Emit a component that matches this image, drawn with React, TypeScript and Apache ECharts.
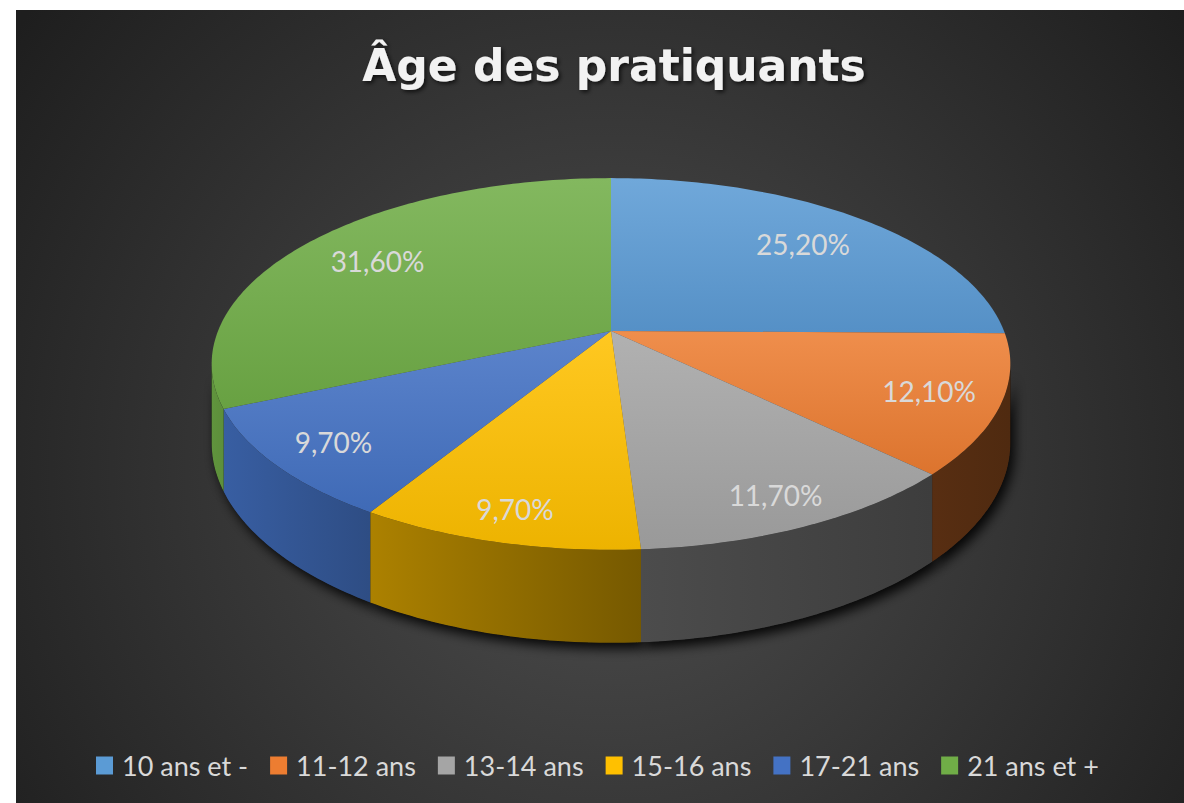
import React, { useEffect, useRef } from "react";
import * as echarts from "echarts";

const categories = ["10 ans et -", "11-12 ans", "13-14 ans", "15-16 ans", "17-21 ans", "21 ans et +"];
const shares = [25.2, 12.1, 11.7, 9.7, 9.7, 31.6];
const colors = ["#5B9BD5", "#ED7D31", "#A5A5A5", "#FFC000", "#4472C4", "#70AD47"];
const titleText = "Âge des pratiquants";

// projection of the tilted 3D disc
const CX = 611;
const CY = 331;
const RX = 393;
const RY = 180;
const K = 0.1774;
const DEPTH = 76.5;

const total = shares.reduce((a, b) => a + b, 0);
const starts: number[] = [];
shares.reduce((acc, v, i) => {
  starts[i] = acc;
  return acc + v;
}, 0);

function proj(theta: number, r: number, down: number): number[] {
  const u = Math.sin(theta) * r;
  const v = -Math.cos(theta) * r;
  const w = 1 - K * v;
  return [CX + (RX * u) / w, CY + (RY * v + down) / w];
}

function hexRgb(hex: string): number[] {
  const h = hex.replace("#", "");
  return [0, 2, 4].map((k) => parseInt(h.slice(k, k + 2), 16));
}
function scale(hex: string, f: number): string {
  const c = hexRgb(hex).map((x) => Math.max(0, Math.min(255, Math.round(x * f))));
  return `rgb(${c[0]},${c[1]},${c[2]})`;
}
function lighten(hex: string, a: number): string {
  const c = hexRgb(hex).map((x) => Math.round(x + (255 - x) * a));
  return `rgb(${c[0]},${c[1]},${c[2]})`;
}
function shade(theta: number): number {
  const u = Math.sin(theta);
  return u < 0 ? 0.47 - 0.39 * u : 0.47 - 0.14 * u;
}
function fmt(v: number): string {
  return v.toFixed(2).replace(".", ",") + "%";
}

const FRONT_MIN = Math.acos(-K);
const FRONT_MAX = 2 * Math.PI - FRONT_MIN;

export default function App() {
  const ref = useRef<HTMLDivElement>(null);
  useEffect(() => {
    if (!ref.current) return;
    const chart = echarts.init(ref.current, undefined, { renderer: "svg" });
    const option: any = {
      animation: false,
      graphic: [
        {
          type: "rect",
          z: -10,
          silent: true,
          shape: { x: 16, y: 10, width: 1168, height: 793 },
          style: {
            fill: {
              type: "radial",
              x: 610,
              y: 470,
              r: 740,
              global: true,
              colorStops: [
                { offset: 0, color: "#4f4f4f" },
                { offset: 1, color: "#1e1e1e" },
              ],
            },
          },
        },
      ],
      title: {
        text: titleText,
        left: 609,
        top: 38,
        textAlign: "center",
        textStyle: {
          color: "#f2f2f2",
          fontFamily: "DejaVu Sans",
          fontWeight: "bold",
          fontSize: 44,
          textShadowColor: "rgba(0,0,0,0.7)",
          textShadowBlur: 4,
          textShadowOffsetX: 2,
          textShadowOffsetY: 2,
        },
      },
      legend: {
        data: categories,
        left: 91,
        top: 747,
        icon: "rect",
        itemWidth: 17,
        itemHeight: 18,
        itemGap: 22,
        selectedMode: false,
        textStyle: { color: "#d9d9d9", fontSize: 27, fontFamily: "Lato", padding: [0, 0, 0, 4] },
      },
      series: [
        {
          type: "pie",
          radius: 0,
          silent: true,
          label: { show: false },
          labelLine: { show: false },
          data: categories.map((n, i) => ({ name: n, value: shares[i], itemStyle: { color: colors[i] } })),
        },
        {
          type: "custom",
          coordinateSystem: "none",
          silent: true,
          data: shares.map((v) => [v]),
          renderItem: (params: any, api: any) => {
            const i = params.dataIndex;
            const val = api.value(0);
            const a0 = (starts[i] / total) * 2 * Math.PI;
            const a1 = a0 + (val / total) * 2 * Math.PI;
            const col = colors[i];
            const children: any[] = [];
            // top face
            const top: number[][] = [[CX, CY]];
            const n = Math.max(2, Math.ceil(((a1 - a0) * 180) / Math.PI));
            for (let k = 0; k <= n; k++) top.push(proj(a0 + ((a1 - a0) * k) / n, 1, 0));
            children.push({
              type: "polygon",
              z2: 2,
              shape: { points: top },
              style: {
                fill: {
                  type: "linear",
                  x: 0,
                  y: 0,
                  x2: 0,
                  y2: 1,
                  colorStops: [
                    { offset: 0, color: lighten(col, 0.13) },
                    { offset: 1, color: scale(col, 0.93) },
                  ],
                },
              },
            });
            // front wall
            const w0 = Math.max(a0, FRONT_MIN);
            const w1 = Math.min(a1, FRONT_MAX);
            if (w1 > w0) {
              const m = Math.max(2, Math.ceil(((w1 - w0) * 180) / Math.PI));
              const pts: number[][] = [];
              for (let k = 0; k <= m; k++) pts.push(proj(w0 + ((w1 - w0) * k) / m, 1, 0));
              for (let k = m; k >= 0; k--) pts.push(proj(w0 + ((w1 - w0) * k) / m, 1, DEPTH));
              children.push({
                type: "polygon",
                z2: 0,
                shape: { points: pts },
                style: {
                  fill: "#111111",
                  shadowBlur: 12,
                  shadowColor: "rgba(0,0,0,0.9)",
                  shadowOffsetX: 4,
                  shadowOffsetY: 6,
                },
              });
              children.push({
                type: "polygon",
                z2: 1,
                shape: { points: pts },
                style: {
                  fill: {
                    type: "linear",
                    x: 0,
                    y: 0,
                    x2: 1,
                    y2: 0,
                    colorStops: [
                      { offset: 0, color: scale(col, shade(w1)) },
                      { offset: 1, color: scale(col, shade(w0)) },
                    ],
                  },
                },
              });
            }
            const mid = (a0 + a1) / 2;
            const lr = 0.8 + 0.07 * -Math.cos(mid);
            const lp = proj(mid, lr, 0);
            children.push({
              type: "text",
              z2: 3,
              style: {
                text: fmt(val),
                x: lp[0],
                y: lp[1],
                align: "center",
                verticalAlign: "middle",
                fill: "#d9d9d9",
                fontSize: 28,
                fontFamily: "Lato",
              },
            });
            return { type: "group", children };
          },
        },
      ],
    };
    chart.setOption(option);
    return () => chart.dispose();
  }, []);
  return (
    <div
      ref={ref}
      style={{ position: "absolute", left: 0, top: 0, width: 1184, height: 803, background: "#ffffff" }}
    />
  );
}
